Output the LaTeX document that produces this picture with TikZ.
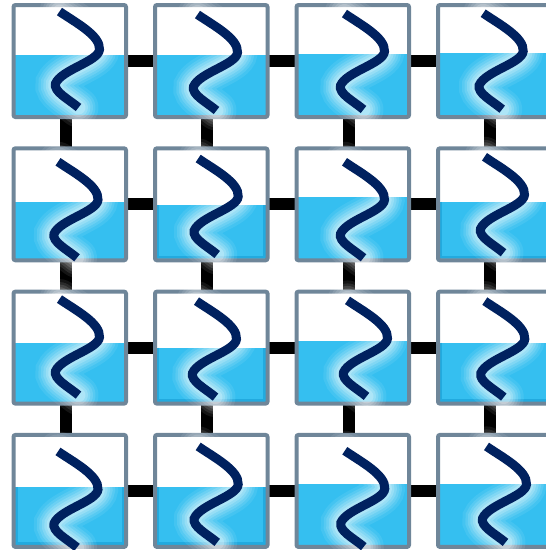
\documentclass[tikz,border=0pt]{standalone}
\usepackage{tikz}
\usetikzlibrary{
  positioning,
  backgrounds
}

\definecolor{framegray}{HTML}{6F8699}
\definecolor{waterblue}{HTML}{35BFF0}
\definecolor{waterdark}{HTML}{22AADF}
\definecolor{wavenavy}{HTML}{00215F}

\newcommand{\wavepath}{(0,0) .. controls (16,11) and (41,24) .. (40,38) .. controls (39,50) and (2,58) .. (-4,72) .. controls (-6,80) and (8,87) .. (19,96)}

\begin{document}
\begin{tikzpicture}[
            x=1pt, y=-1pt,
            node distance=141.5pt,
            % vasca con bordo grigio, livello dell'acqua come parametro
            tank/.style={rectangle, rounded corners=2pt, draw=framegray, line width=4pt, minimum width=112.5pt, minimum height=112pt, inner sep=0pt, outer sep=0pt},
            level/.style={path picture={\fill[waterblue, sharp corners] (path picture bounding box.south west) rectangle ([yshift=#1pt]path picture bounding box.south east);}},
            deep/.style={path picture={\fill[waterblue, sharp corners] (path picture bounding box.south west) rectangle ([yshift=#1pt]path picture bounding box.south east);
                \draw[waterdark, line width=2.5pt, sharp corners] ([shift={(3.2pt,#1pt)}]path picture bounding box.south west) |- ([shift={(-3.2pt,3.2pt)}]path picture bounding box.south east) -- ([shift={(-3.2pt,#1pt)}]path picture bounding box.south east);}},
            link/.style={line width=12pt, black},
            wave/.pic={
                \draw[white, line width=40pt, opacity=0.08, line cap=round] \wavepath;
                \draw[white, line width=34pt, opacity=0.10, line cap=round] \wavepath;
                \draw[white, line width=29pt, opacity=0.12, line cap=round] \wavepath;
                \draw[white, line width=24pt, opacity=0.15, line cap=round] \wavepath;
                \draw[white, line width=19pt, opacity=0.18, line cap=round] \wavepath;
                \draw[white, line width=14pt, opacity=0.22, line cap=round] \wavepath;
                \draw[wavenavy, line width=9pt] \wavepath;
            }
        ]

        \useasboundingbox (0,0) rectangle (546,550);
        \clip (0,0) rectangle (546,550);

        % Vasche
        \node (tank_11) [tank, level=62] at (69.75,61) {};
        \node (tank_12) [tank, level=62, right of=tank_11] {};
        \node (tank_13) [tank, level=63, right of=tank_12] {};
        \node (tank_14) [tank, level=64, right of=tank_13] {};

        \node (tank_21) [tank, level=58.6, below of=tank_11, yshift=-1.8pt] {};
        \node (tank_22) [tank, deep=55.3, right of=tank_21] {};
        \node (tank_23) [tank, level=63.6, right of=tank_22] {};
        \node (tank_24) [tank, deep=58.6, right of=tank_23] {};

        \node (tank_31) [tank, level=60.3, below of=tank_21, yshift=-1.8pt] {};
        \node (tank_32) [tank, deep=56, right of=tank_31] {};
        \node (tank_33) [tank, level=62.6, right of=tank_32] {};
        \node (tank_34) [tank, deep=61, right of=tank_33] {};

        \node (tank_41) [tank, deep=60, below of=tank_31, yshift=-1.8pt] {};
        \node (tank_42) [tank, deep=60, right of=tank_41] {};
        \node (tank_43) [tank, level=63, right of=tank_42] {};
        \node (tank_44) [tank, level=63, right of=tank_43] {};

        % Tubi di collegamento (dietro le vasche)
        \begin{pgfonlayer}{background}
        \draw [link] (tank_11) -- (tank_12);
        \draw [link] (tank_12) -- (tank_13);
        \draw [link] (tank_13) -- (tank_14);
        \draw [link] (tank_21) -- (tank_22);
        \draw [link] (tank_22) -- (tank_23);
        \draw [link] (tank_23) -- (tank_24);
        \draw [link] (tank_31) -- (tank_32);
        \draw [link] (tank_32) -- (tank_33);
        \draw [link] (tank_33) -- (tank_34);
        \draw [link] (tank_41) -- (tank_42);
        \draw [link] (tank_42) -- (tank_43);
        \draw [link] (tank_43) -- (tank_44);

        \draw [link] ([xshift=-4pt]tank_11.south) -- ([xshift=-4pt]tank_21.north);
        \draw [link] ([xshift=-4pt]tank_12.south) -- ([xshift=-4pt]tank_22.north);
        \draw [link] ([xshift=-4pt]tank_13.south) -- ([xshift=-4pt]tank_23.north);
        \draw [link] ([xshift=-4pt]tank_14.south) -- ([xshift=-4pt]tank_24.north);
        \draw [link] ([xshift=-4pt]tank_21.south) -- ([xshift=-4pt]tank_31.north);
        \draw [link] ([xshift=-4pt]tank_22.south) -- ([xshift=-4pt]tank_32.north);
        \draw [link] ([xshift=-4pt]tank_23.south) -- ([xshift=-4pt]tank_33.north);
        \draw [link] ([xshift=-4pt]tank_24.south) -- ([xshift=-4pt]tank_34.north);
        \draw [link] ([xshift=-4pt]tank_31.south) -- ([xshift=-4pt]tank_41.north);
        \draw [link] ([xshift=-4pt]tank_32.south) -- ([xshift=-4pt]tank_42.north);
        \draw [link] ([xshift=-4pt]tank_33.south) -- ([xshift=-4pt]tank_43.north);
        \draw [link] ([xshift=-4pt]tank_34.south) -- ([xshift=-4pt]tank_44.north);
        \end{pgfonlayer}

        % Onde
        \pic at ([shift={(46,6.5)}]tank_11.north west) {wave};
        \pic at ([shift={(42.5,9.5)}]tank_12.north west) {wave};
        \pic at ([shift={(48,8.5)}]tank_13.north west) {wave};
        \pic at ([shift={(45.2,8.2)}]tank_14.north west) {wave};

        \pic at ([shift={(44.5,13.5)}]tank_21.north west) {wave};
        \pic at ([shift={(43.2,10.2)}]tank_22.north west) {wave};
        \pic at ([shift={(48,13.5)}]tank_23.north west) {wave};
        \pic at ([shift={(46.5,8.5)}]tank_24.north west) {wave};

        \pic at ([shift={(46,7.5)}]tank_31.north west) {wave};
        \pic at ([shift={(41.5,9.5)}]tank_32.north west) {wave};
        \pic at ([shift={(51,8.8)}]tank_33.north west) {wave};
        \pic at ([shift={(46.8,9.5)}]tank_34.north west) {wave};

        \pic at ([shift={(44.5,16.5)}]tank_41.north west) {wave};
        \pic at ([shift={(43.2,11.5)}]tank_42.north west) {wave};
        \pic at ([shift={(48.3,15.8)}]tank_43.north west) {wave};
        \pic at ([shift={(48.5,11.5)}]tank_44.north west) {wave};

    \end{tikzpicture}
\end{document}
